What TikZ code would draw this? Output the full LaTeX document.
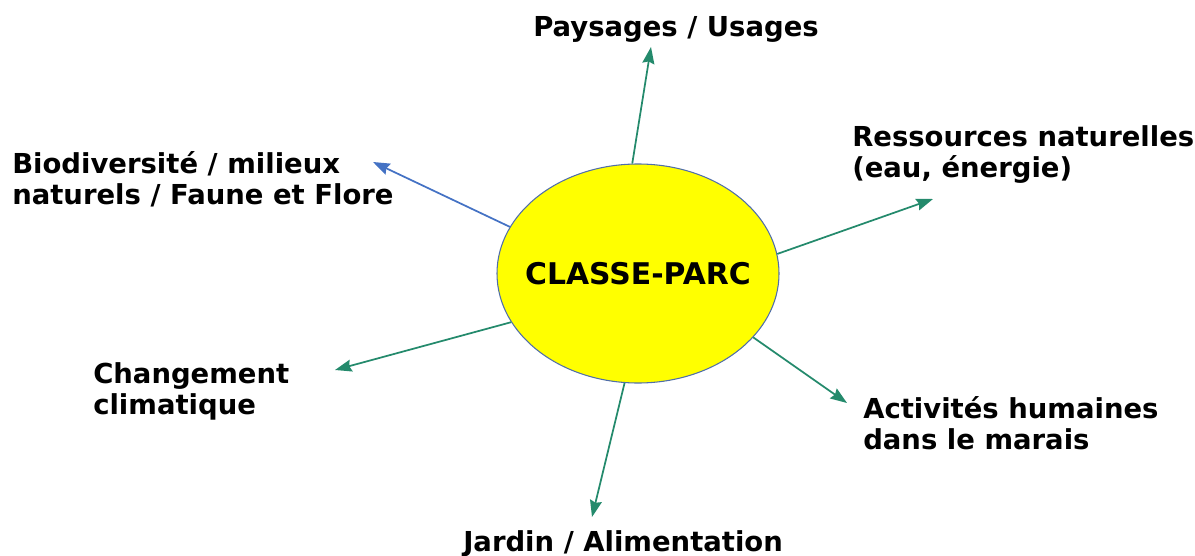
\documentclass[tikz,border=0pt]{standalone}
\usepackage{fontspec}
\setmainfont{DejaVu Sans}
\usetikzlibrary{shapes.geometric,arrows.meta}
\definecolor{arrgreen}{RGB}{36,138,108}
\definecolor{arrblue}{RGB}{68,114,196}
\definecolor{rimblue}{RGB}{80,110,170}
\definecolor{hubyellow}{RGB}{255,255,0}
\begin{document}
\begin{tikzpicture}[x=0.75pt,y=-0.75pt,
  lbl/.style={inner sep=0pt,font=\bfseries\fontsize{20.6}{23.3}\selectfont,align=left},
  hublbl/.style={inner sep=0pt,font=\bfseries\fontsize{22.4}{24}\selectfont},
  conn/.style={line width=1.3pt,arrgreen,-{Stealth[length=12.5pt,width=9pt,inset=1.5pt]}},
  bconn/.style={conn,arrblue},
  hub/.style={ellipse,draw=rimblue,line width=0.8pt,fill=hubyellow,inner sep=0pt,
    minimum width={282*0.75pt},minimum height={219*0.75pt}}]
\useasboundingbox (0,0) rectangle (1195,556);
\node[hub,label={[hublbl]center:CLASSE-PARC}] (c) at (638,273.5) {};
\node[lbl,anchor=base west] (pay) at (533,37) {Paysages / Usages};
\node[lbl,anchor=north west] (bio) at (12,151) {Biodiversité / milieux\\naturels / Faune et Flore};
\node[lbl,anchor=north west] (res) at (852,125) {Ressources naturelles\\(eau, énergie)};
\node[lbl,anchor=north west] (chg) at (93,362) {Changement\\climatique};
\node[lbl,anchor=north west] (act) at (863,396) {Activités humaines\\dans le marais};
\node[lbl,anchor=base west] (jar) at (463,551) {Jardin / Alimentation};
\coordinate (tP) at (651,47);
\coordinate (tB) at (373,162);
\coordinate (tR) at (933,199);
\coordinate (tC) at (335,370);
\coordinate (tA) at (847,403);
\coordinate (tJ) at (592,517);
\draw[conn] (c.93) -- (tP);
\draw[bconn] (c.160) -- (tB);
\draw[conn] (c.8.6) -- (tR);
\draw[conn] (c.201.4) -- (tC);
\draw[conn] (c.331.5) -- (tA);
\draw[conn] (c.263) -- (tJ);
\end{tikzpicture}
\end{document}
